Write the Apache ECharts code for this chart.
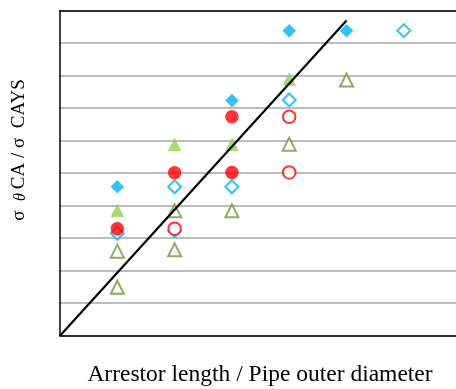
<!DOCTYPE html>
<html>
<head>
<meta charset="utf-8">
<script src="https://cdn.jsdelivr.net/npm/echarts@6/dist/echarts.min.js"></script>
<style>html,body{margin:0;padding:0;background:#fff;}#c{width:456px;height:389px;}</style>
</head>
<body>
<div id="c"></div>
<script>
// Data (x = arrestor length / pipe outer diameter, y = stress ratio)
const filledDiamondX = [1, 3, 4, 5];
const filledDiamondY = [4.58, 7.23, 9.38, 9.38];
const filledCircleX = [1, 2, 3, 3];
const filledCircleY = [3.29, 5.01, 6.73, 5.02];
const filledTriangleX = [1, 2, 3, 4];
const filledTriangleY = [3.86, 5.89, 5.89, 7.89];
const openDiamondX = [1, 2, 2, 3, 4, 6];
const openDiamondY = [3.15, 4.58, 3.23, 4.58, 7.25, 9.38];
const openCircleX = [2, 4, 4];
const openCircleY = [3.29, 6.73, 5.02];
const openTriangleX = [1, 1, 2, 2, 3, 4, 5];
const openTriangleY = [2.60, 1.49, 3.84, 2.64, 3.84, 5.89, 7.86];
const refLineX = [0, 5];
const refLineY = [0, 9.69];

const xTitle = 'Arrestor length / Pipe outer diameter';

function pts(xs, ys) { return xs.map((x, i) => [x, ys[i]]); }

const BLUE = '#00B0F0', RED = '#FF0000', GREEN = '#92D050', DGREEN = '#77933C';

function filled(data, symbol, color, size) {
  return { type: 'scatter', data: data, symbol: symbol, symbolSize: size,
    itemStyle: { color: color }, z: 3 };
}
function open(data, symbol, color, size) {
  return { type: 'scatter', data: data, symbol: symbol, symbolSize: size,
    itemStyle: { color: '#fff', borderColor: color, borderWidth: 2 }, z: 3 };
}

const axisCommon = {
  type: 'value', min: 0, max: 6.91,
  axisLine: { show: true, onZero: false, lineStyle: { color: '#000', width: 1.5 } },
  axisTick: { show: false }, axisLabel: { show: false }, splitLine: { show: false }
};

const chart = echarts.init(document.getElementById('c'), null, { renderer: 'canvas' });
chart.setOption({
  animation: false,
  backgroundColor: '#fff',
  grid: { left: 60, top: 10.5, right: 0, bottom: 53.3 },
  xAxis: [
    Object.assign({ position: 'bottom' }, axisCommon),
    Object.assign({ position: 'top' }, axisCommon)
  ],
  yAxis: { type: 'value', min: 0, max: 10, interval: 1,
    axisLine: { show: true, lineStyle: { color: '#000', width: 1.5 } },
    axisTick: { show: false }, axisLabel: { show: false },
    splitLine: { show: true, lineStyle: { color: '#A6A6A6', width: 1.5 } } },
  graphic: [
    { type: 'text', x: 260, y: 375,
      style: { text: xTitle, font: '23.5px "Liberation Serif", serif', fill: '#000',
        align: 'center', verticalAlign: 'middle' } },
    { type: 'text', x: 19, y: 150, rotation: Math.PI / 2,
      style: {
        text: '{n|σ  }{t|θ }{n|CA / σ  CAYS}',
        align: 'center', verticalAlign: 'middle',
        rich: {
          n: { font: '19px "Liberation Serif", serif', fill: '#000' },
          t: { font: 'italic 16px "Liberation Serif", serif', fill: '#000', padding: [4, 0, 0, 0] }
        }
      } }
  ],
  series: [
    open(pts(openTriangleX, openTriangleY), 'triangle', DGREEN, 13),
    open(pts(openDiamondX, openDiamondY), 'diamond', BLUE, 13),
    open(pts(openCircleX, openCircleY), 'circle', RED, 12.5),
    filled(pts(filledDiamondX, filledDiamondY), 'diamond', BLUE, 13.5),
    filled(pts(filledTriangleX, filledTriangleY), 'triangle', GREEN, 13.5),
    filled(pts(filledCircleX, filledCircleY), 'circle', RED, 13.5),
    { type: 'line', data: pts(refLineX, refLineY), symbol: 'none', z: 4,
      lineStyle: { color: '#000', width: 2.2 } }
  ]
});
</script>
</body>
</html>
